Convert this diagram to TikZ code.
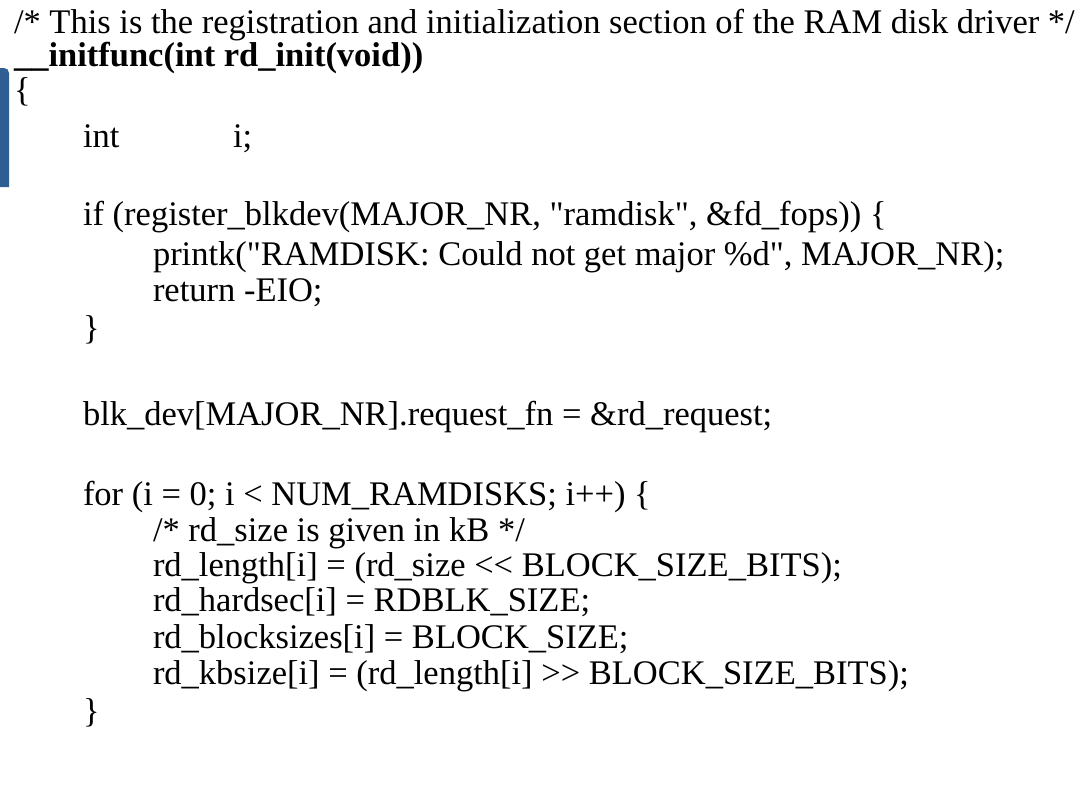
\documentclass[tikz,border=0pt]{standalone}
\usepackage{fontspec}
\setmainfont{Liberation Serif}[Ligatures=TeXOff]
\definecolor{barblue}{RGB}{46,94,146}
\tikzset{
  code/.style={anchor=base west, inner sep=0pt, outer sep=0pt,
    font=\fontsize{34.5}{41}\selectfont},
  boldcode/.style={code, font=\fontsize{34.5}{41}\selectfont\bfseries},
}
\begin{document}
\begin{tikzpicture}[x=1pt,y=-1pt]
\useasboundingbox (0,0) rectangle (1084,788);
% side marker next to the function body
\fill[barblue] (0,187) -- (0,68) [rounded corners=5pt] -- (9,68) [sharp corners] -- (9,187) -- cycle;
% code lines
\node[code] (l1) at (14,33) {/* This is the registration and initialization section of the RAM disk driver */};
\node[boldcode] (l2) at (14,66) {\_\_initfunc(int rd\_init(void))};
\node[code] (l3) at (14,101) {\{};
\node[code] (l4) at (83,147.5) {\makebox[150pt][l]{int}i;};
\node[code] (l6) at (83,225.5) {if (register\_blkdev(MAJOR\_NR, "ramdisk", \&fd\_fops)) \{};
\node[code] (l7) at (153,265) {printk("RAMDISK: Could not get major \%d", MAJOR\_NR);};
\node[code] (l8) at (153,301.5) {return -EIO;};
\node[code] (l9) at (83,339) {\}};
\node[code] (l11) at (83,425) {blk\_dev[MAJOR\_NR].request\_fn = \&rd\_request;};
\node[code] (l13) at (83,505) {for (i = 0; i < NUM\_RAMDISKS; i++) \{};
\node[code] (l14) at (153,541) {/* rd\_size is given in kB */};
\node[code] (l15) at (153,576.5) {rd\_length[i] = (rd\_size << BLOCK\_SIZE\_BITS);};
\node[code] (l16) at (153,611.5) {rd\_hardsec[i] = RDBLK\_SIZE;};
\node[code] (l17) at (153,648) {rd\_blocksizes[i] = BLOCK\_SIZE;};
\node[code] (l18) at (153,684) {rd\_kbsize[i] = (rd\_length[i] >> BLOCK\_SIZE\_BITS);};
\node[code] (l19) at (83,722) {\}};
\end{tikzpicture}
\end{document}
